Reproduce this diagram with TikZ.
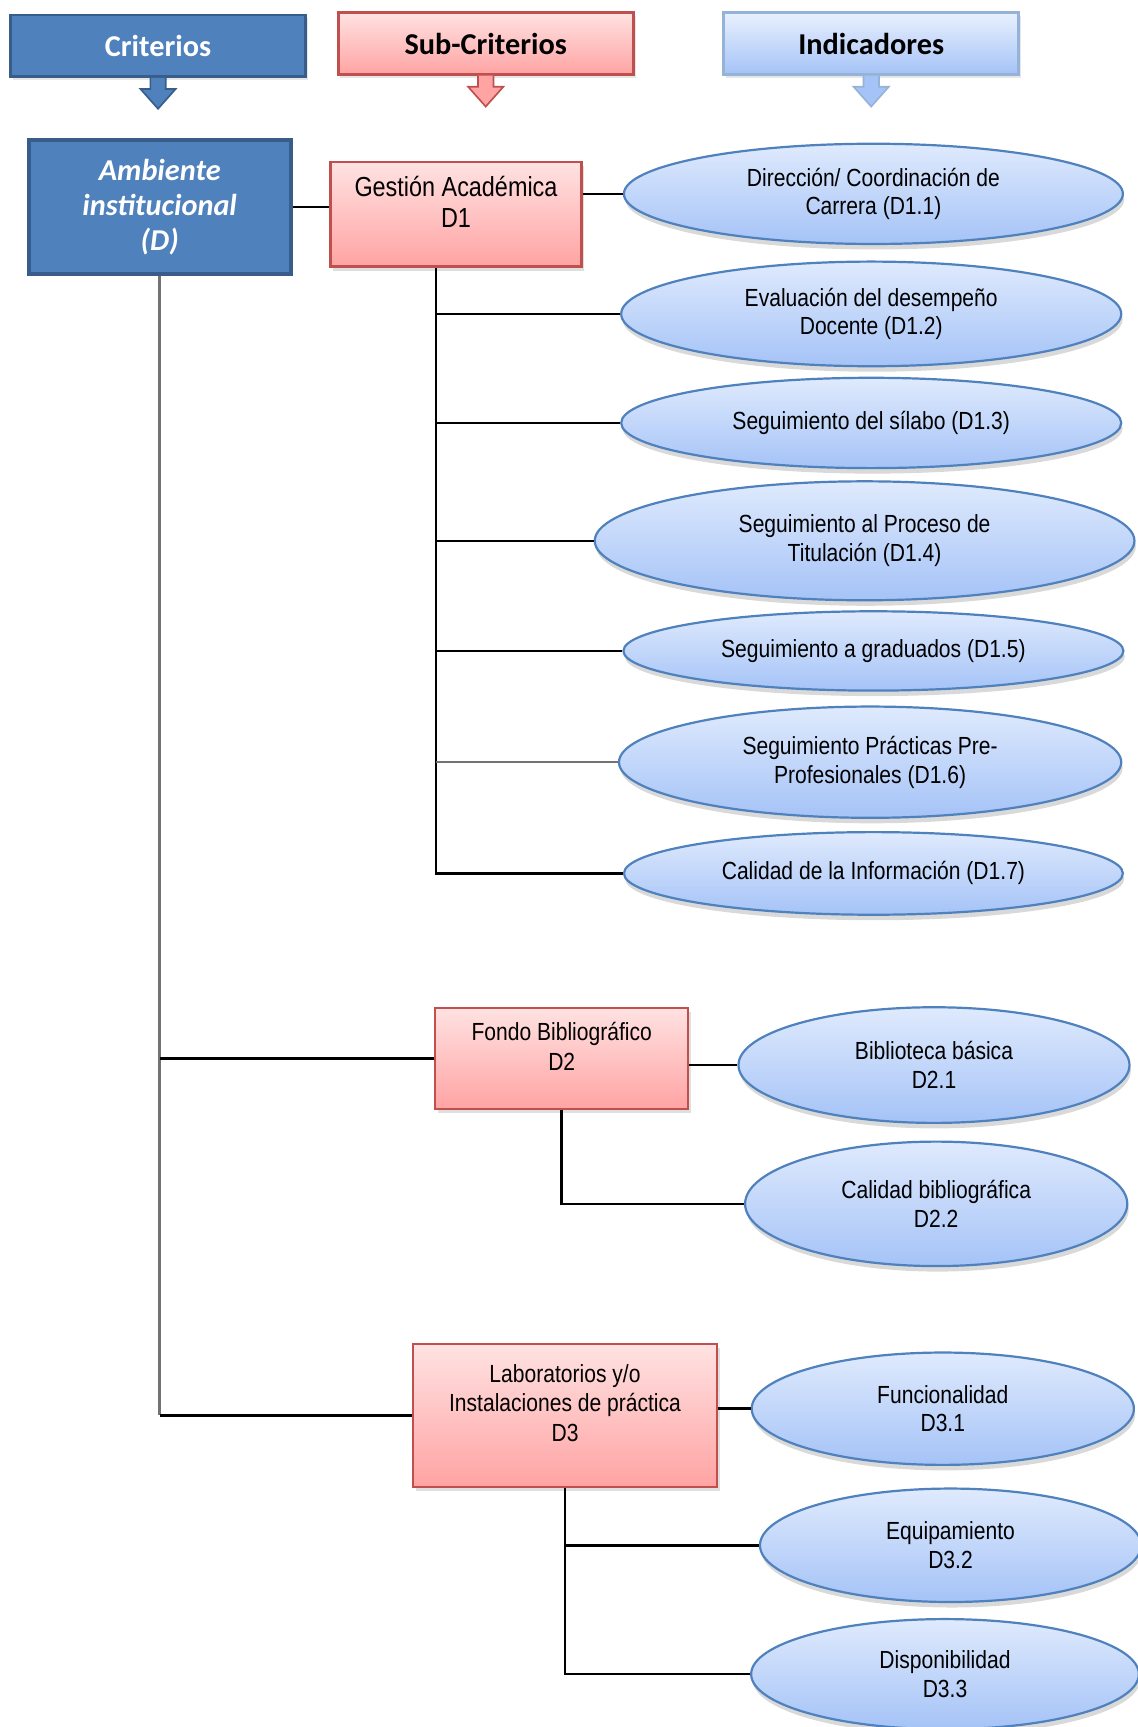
\documentclass[tikz,border=0pt]{standalone}
\usepackage{fontspec}
\setmainfont{Liberation Sans}[FakeStretch=0.85]
\newfontfamily\hdfont{Carlito}
\usetikzlibrary{positioning,shapes,shadows,calc}
\definecolor{critblue}{HTML}{4F81BD}
\definecolor{critline}{HTML}{385D8A}
\definecolor{subtop}{HTML}{FFE2E2}
\definecolor{subbot}{HTML}{FFA3A3}
\definecolor{subline}{HTML}{C0504D}
\definecolor{indtop}{HTML}{DFEAFD}
\definecolor{indbot}{HTML}{A5C3F7}
\definecolor{indline}{HTML}{4F81BD}
\definecolor{hdline}{HTML}{95B3D7}
\newdimen\du \du=0.4pt
\tikzset{
  head/.style={rectangle,inner sep=0pt,line width=1pt,minimum width=268\du,minimum height=56\du,
    drop shadow={shadow xshift=0.8pt,shadow yshift=-1.2pt,opacity=0.2},
    font=\hdfont\bfseries\fontsize{11}{13}\selectfont},
  crit/.style={rectangle,fill=critblue,draw=critline,line width=1.4pt,inner sep=0pt,text=white,align=center,
    font=\hdfont\bfseries\itshape\fontsize{11}{12.8}\selectfont},
  subcrit/.style={rectangle,top color=subtop,bottom color=subbot,draw=subline,line width=0.8pt,inner sep=0pt,
    align=center,text depth=9pt,drop shadow={shadow xshift=1pt,shadow yshift=-1.5pt,opacity=0.25},
    font=\fontsize{9}{10.8}\selectfont},
  indic/.style={ellipse,top color=indtop,bottom color=indbot,draw=indline,line width=0.8pt,inner sep=0pt,
    align=center,drop shadow={shadow xshift=0.5pt,shadow yshift=-2pt,opacity=0.3},
    font=\fontsize{9}{10.4}\selectfont},
  link/.style={line width=0.9pt,black},
  trunk/.style={line width=0.9pt,black!55}
}
\begin{document}
\begin{tikzpicture}[x=\du,y=-\du]
  \useasboundingbox (0,0) rectangle (1033,1568);
  \clip (0,0) rectangle (1033,1568);

  \node[head,fill=critblue,draw=critline,text=white] (h1) at (143.5,41.5) {Criterios};
  \node[head,top color=subtop,bottom color=subbot,draw=subline] (h2) at (441,39.5) {Sub-Criterios};
  \node[head,top color=indtop!70!white,bottom color=indbot,draw=hdline] (h3) at (791,39.5) {Indicadores};
  \foreach \h/\f/\d in {h1/critblue/critline,h2/subbot/subline,h3/indbot/hdline}
    \filldraw[fill=\f,draw=\d,line width=0.6pt] ([xshift=-7\du]\h.south) -- ++(0,10) -- ++(-9,0)
      -- ++(16,18) -- ++(16,-18) -- ++(-9,0) -- ++(0,-10);

  \node[crit,minimum width=238\du,minimum height=122\du] (amb) at (145,188) {Ambiente\\institucional\\(D)};

  \node[subcrit,minimum width=228\du,minimum height=95\du,font=\fontsize{10}{11.6}\selectfont] (g1) at (414,194.5) {Gestión Académica\\D1};
  \node[subcrit,minimum width=230\du,minimum height=92\du] (g2) at (510,961) {Fondo Bibliográfico\\D2};
  \node[subcrit,minimum width=276\du,minimum height=130\du] (g3) at (513,1285) {Laboratorios y/o\\Instalaciones de práctica\\D3};

  \node[indic,minimum width=453\du,minimum height=91\du] (e11) at (793,176) {Dirección/ Coordinación de\\Carrera (D1.1)};
  \node[indic,minimum width=454\du,minimum height=95\du] (e12) at (791,285) {Evaluación del desempeño\\Docente (D1.2)};
  \node[indic,minimum width=454\du,minimum height=82\du] (e13) at (791,384) {Seguimiento del sílabo (D1.3)};
  \node[indic,minimum width=490\du,minimum height=108\du] (e14) at (785,491) {Seguimiento al Proceso de\\Titulación (D1.4)};
  \node[indic,minimum width=454\du,minimum height=72\du] (e15) at (793,591) {Seguimiento a graduados (D1.5)};
  \node[indic,minimum width=456\du,minimum height=101\du] (e16) at (790,692) {Seguimiento Prácticas Pre-\\Profesionales (D1.6)};
  \node[indic,minimum width=453\du,minimum height=75\du] (e17) at (793,793) {Calidad de la Información (D1.7)};
  \node[indic,minimum width=355\du,minimum height=105\du] (e21) at (848,967) {Biblioteca básica\\D2.1};
  \node[indic,minimum width=347\du,minimum height=113\du] (e22) at (850,1093) {Calidad bibliográfica\\D2.2};
  \node[indic,minimum width=347\du,minimum height=102\du] (e31) at (856,1279) {Funcionalidad\\D3.1};
  \node[indic,minimum width=346\du,minimum height=103\du] (e32) at (863,1403) {Equipamiento\\D3.2};
  \node[indic,minimum width=352\du,minimum height=100\du] (e33) at (858,1520) {Disponibilidad\\D3.3};

  \coordinate (t1) at ([xshift=-18\du]g1.south);
  \draw[trunk] (amb.south) -- (amb.south |- g3.west);
  \draw[link] (amb.south |- g2.west) -- (g2.west);
  \draw[link] (amb.south |- g3.west) -- (g3.west);
  \draw[link] (amb.east) -- (amb.east -| g1.west);
  \draw[link] (e11.west -| g1.east) -- (e11.west);
  \draw[link] (t1) |- (e17.west);
  \foreach \e in {e12,e13,e14,e15}
    \draw[link] (t1 |- \e.west) -- (\e.west);
  \draw[trunk] (t1 |- e16.west) -- (e16.west);
  \draw[link] (e21.west -| g2.east) -- (e21.west);
  \draw[link] (g2.south) |- (e22.west);
  \draw[link] (e31.west -| g3.east) -- (e31.west);
  \draw[link] (g3.south) |- (e32.west);
  \draw[link] (g3.south) |- (e33.west);
\end{tikzpicture}
\end{document}
